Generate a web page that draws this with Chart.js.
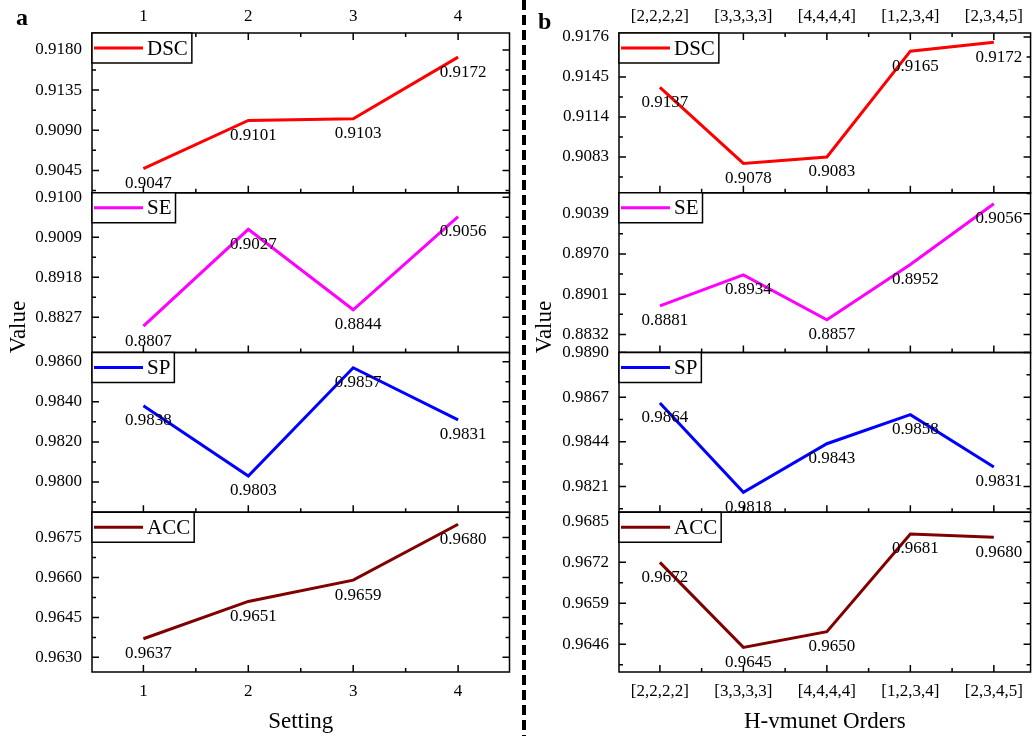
<!DOCTYPE html>
<html>
<head>
<meta charset="utf-8">
<script src="https://cdn.jsdelivr.net/npm/chart.js@4"></script>
<style>
  body { margin: 0; background: #fff; }
  #wrap { position: relative; width: 1032px; height: 736px; overflow: hidden; }
  #chartA { position: absolute; left: 0; top: 0; }
  #chartB { position: absolute; left: 528px; top: 0; }
  #divider {
    position: absolute; left: 522px; top: 0; width: 4px; height: 736px;
    background: repeating-linear-gradient(to bottom, #000 0 10px, transparent 10px 15px);
  }
</style>
</head>
<body>
<div id="wrap">
  <canvas id="chartA" width="520" height="736"></canvas>
  <div id="divider"></div>
  <canvas id="chartB" width="504" height="736"></canvas>
</div>
<script>
const FONT = "'Liberation Serif', 'Times New Roman', serif";

const metrics = ['DSC', 'SE', 'SP', 'ACC'];
const colors = ['#ff0000', '#ff00ff', '#0000ff', '#800000'];

// panel a - Setting
const settings = [1, 2, 3, 4];
const dscA = [0.9047, 0.9101, 0.9103, 0.9172];
const seA = [0.8807, 0.9027, 0.8844, 0.9056];
const spA = [0.9838, 0.9803, 0.9857, 0.9831];
const accA = [0.9637, 0.9651, 0.9659, 0.9680];
const ticksDscA = [0.9045, 0.9090, 0.9135, 0.9180];
const ticksSeA = [0.8827, 0.8918, 0.9009, 0.9100];
const ticksSpA = [0.9800, 0.9820, 0.9840, 0.9860];
const ticksAccA = [0.9630, 0.9645, 0.9660, 0.9675];
const rangesA = [[0.9020, 0.9199], [0.8747, 0.9110], [0.97849, 0.98646], [0.96245, 0.96845]];

// panel b - H-vmunet Orders
const orders = ['[2,2,2,2]', '[3,3,3,3]', '[4,4,4,4]', '[1,2,3,4]', '[2,3,4,5]'];
const dscB = [0.9137, 0.9078, 0.9083, 0.9165, 0.9172];
const seB = [0.8881, 0.8934, 0.8857, 0.8952, 0.9056];
const spB = [0.9864, 0.9818, 0.9843, 0.9858, 0.9831];
const accB = [0.9672, 0.9645, 0.9650, 0.9681, 0.9680];
const ticksDscB = [0.9083, 0.9114, 0.9145, 0.9176];
const ticksSeB = [0.8832, 0.8901, 0.8970, 0.9039];
const ticksSpB = [0.9821, 0.9844, 0.9867, 0.9890];
const ticksAccB = [0.9646, 0.9659, 0.9672, 0.9685];
const rangesB = [[0.90553, 0.91791], [0.88010, 0.90749], [0.98077, 0.98900], [0.96372, 0.96879]];

Chart.defaults.color = '#000';
Chart.defaults.font.family = FONT;

// frames, inward ticks, legends, value labels
const framePlugin = {
  id: 'frames',
  afterDatasetsDraw(chart) {
    const { ctx } = chart;
    ctx.save();
    ctx.font = '17px ' + FONT;
    ctx.fillStyle = '#000';
    ctx.textAlign = 'center';
    ctx.textBaseline = 'middle';
    chart.data.datasets.forEach((ds, i) => {
      chart.getDatasetMeta(i).data.forEach((pt, j) => {
        ctx.fillText(ds.data[j].y.toFixed(4), pt.x + 5, pt.y + 15);
      });
    });
    ctx.restore();
  },
  afterDraw(chart, args, opts) {
    const { ctx, chartArea: ca, scales } = chart;
    const xs = scales.x;
    const xMajor = xs.ticks.map(t => t.value);
    ctx.save();
    ctx.strokeStyle = '#000';
    ctx.lineWidth = 1.5;

    const halfSteps = (major, min, max) => {
      const step = major[1] - major[0];
      const out = [];
      let k = Math.ceil((min - major[0]) / (step / 2) - 1e-6);
      for (; major[0] + k * step / 2 <= max + 1e-9; k++) {
        out.push({ v: major[0] + k * step / 2, major: k % 2 === 0 });
      }
      return out;
    };

    ['y0', 'y1', 'y2', 'y3'].forEach((id, n) => {
      const ys = scales[id];
      const ds = chart.data.datasets[n];
      ctx.strokeRect(ca.left, ys.top, ca.right - ca.left, ys.bottom - ys.top);

      // y ticks on both sides, pointing in
      ctx.beginPath();
      halfSteps(ys.ticks.map(t => t.value), ys.min, ys.max).forEach(t => {
        const py = ys.getPixelForValue(t.v);
        const len = t.major ? 7 : 4;
        ctx.moveTo(ca.left, py); ctx.lineTo(ca.left + len, py);
        ctx.moveTo(ca.right, py); ctx.lineTo(ca.right - len, py);
      });
      // x ticks on the bottom of each panel, and on top of the first
      halfSteps(xMajor, xs.min, xs.max).forEach(t => {
        const px = xs.getPixelForValue(t.v);
        const len = t.major ? 7 : 4;
        ctx.moveTo(px, ys.bottom); ctx.lineTo(px, ys.bottom - len);
        if (n === 0) { ctx.moveTo(px, ys.top); ctx.lineTo(px, ys.top + len); }
      });
      ctx.stroke();

      // legend box
      ctx.font = '21px ' + FONT;
      const tw = ctx.measureText(ds.label).width;
      const bx = ca.left, by = ys.top;
      ctx.fillStyle = '#fff';
      ctx.fillRect(bx, by, 55 + tw + 4, 30);
      ctx.strokeRect(bx, by, 55 + tw + 4, 30);
      ctx.beginPath();
      ctx.strokeStyle = ds.borderColor;
      ctx.lineWidth = 3;
      ctx.moveTo(bx + 2, by + 15); ctx.lineTo(bx + 51, by + 15);
      ctx.stroke();
      ctx.strokeStyle = '#000';
      ctx.lineWidth = 1.5;
      ctx.fillStyle = '#000';
      ctx.textAlign = 'left';
      ctx.textBaseline = 'middle';
      ctx.fillText(ds.label, bx + 55, by + 16);
    });

    // y title and panel letter
    ctx.fillStyle = '#000';
    ctx.font = '23px ' + FONT;
    ctx.textAlign = 'center';
    ctx.textBaseline = 'middle';
    ctx.save();
    ctx.translate(opts.valueX, 327);
    ctx.rotate(-Math.PI / 2);
    ctx.fillText('Value', 0, 0);
    ctx.restore();
    ctx.font = 'bold 24px ' + FONT;
    ctx.textAlign = 'left';
    ctx.textBaseline = 'alphabetic';
    ctx.fillText(opts.letter, opts.letterX, opts.letterY);
    ctx.restore();
  }
};

function makePanel(id, cfg) {
  const xAxis = (pos) => ({
    type: 'linear',
    position: pos,
    min: cfg.xMin,
    max: cfg.xMax,
    afterBuildTicks: s => { s.ticks = cfg.xs.map(v => ({ value: v })); },
    afterFit: s => { s.height = pos === 'bottom' ? 64 : 33; },
    grid: { display: false, drawTicks: false },
    border: { display: false },
    ticks: {
      autoSkip: false, maxRotation: 0, padding: pos === 'bottom' ? 9 : 6,
      font: { size: 17 }, color: '#000',
      callback: v => cfg.xLabel(v)
    },
    title: {
      display: pos === 'bottom', text: cfg.xTitle,
      font: { size: 23 }, color: '#000', padding: { top: 0, bottom: 0 }
    }
  });

  const scales = { x: xAxis('bottom'), xt: xAxis('top') };
  cfg.series.forEach((vals, n) => {
    scales['y' + n] = {
      type: 'linear',
      position: 'left',
      stack: 'panel',
      stackWeight: 1,
      weight: 4 - n,
      bounds: 'data',
      min: cfg.ranges[n][0],
      max: cfg.ranges[n][1],
      afterBuildTicks: s => { s.ticks = cfg.yTicks[n].map(v => ({ value: v })); },
      afterFit: s => { s.width = cfg.yWidth; },
      grid: { display: false, drawTicks: false },
      border: { display: false },
      ticks: {
        autoSkip: false, padding: 10,
        font: { size: 17 }, color: '#000',
        callback: v => v.toFixed(4)
      }
    };
  });

  new Chart(document.getElementById(id), {
    type: 'line',
    data: {
      datasets: cfg.series.map((vals, n) => ({
        label: metrics[n],
        data: vals.map((v, i) => ({ x: cfg.xs[i], y: v })),
        yAxisID: 'y' + n,
        borderColor: colors[n],
        borderWidth: 3,
        pointRadius: 0,
        tension: 0,
        fill: false
      }))
    },
    options: {
      responsive: false,
      animation: false,
      layout: { padding: { left: 0, right: cfg.padRight, top: 0, bottom: 0 } },
      plugins: {
        legend: { display: false },
        tooltip: { enabled: false },
        frames: { letter: cfg.letter, letterX: cfg.letterX, letterY: cfg.letterY, valueX: cfg.valueX }
      },
      scales
    },
    plugins: [framePlugin]
  });
}

document.addEventListener('DOMContentLoaded', () => {
  makePanel('chartA', {
    xs: settings,
    xLabel: v => String(v),
    xMin: 0.51, xMax: 4.49,
    xTitle: 'Setting',
    series: [dscA, seA, spA, accA],
    yTicks: [ticksDscA, ticksSeA, ticksSpA, ticksAccA],
    ranges: rangesA,
    yWidth: 92, padRight: 10.5,
    letter: 'a', letterX: 16, letterY: 25, valueX: 19
  });
  makePanel('chartB', {
    xs: orders.map((o, i) => i),
    xLabel: v => orders[v],
    xMin: -0.49, xMax: 4.44,
    xTitle: 'H-vmunet Orders',
    series: [dscB, seB, spB, accB],
    yTicks: [ticksDscB, ticksSeB, ticksSpB, ticksAccB],
    ranges: rangesB,
    yWidth: 91, padRight: 1,
    letter: 'b', letterX: 10, letterY: 29, valueX: 17
  });
});
</script>
</body>
</html>
